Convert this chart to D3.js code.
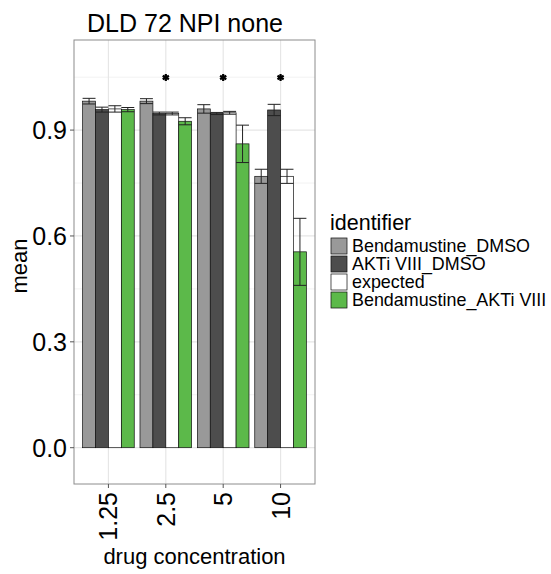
<!DOCTYPE html>
<html><head><meta charset="utf-8">
<script src="https://cdn.jsdelivr.net/npm/d3@7"></script>
<style>body{margin:0;background:#fff}svg{display:block;font-family:"Liberation Sans",Arial,Helvetica,sans-serif}</style>
</head><body><svg id="c" width="551" height="574"></svg>
<script>
const categories = ["1.25","2.5","5","10"];
const seriesNames = ["Bendamustine_DMSO","AKTi VIII_DMSO","expected","Bendamustine_AKTi VIII"];
const seriesColors = ["#999999","#4d4d4d","#ffffff","#5cb94a"];
const bendaDMSO = [0.982,0.982,0.960,0.769];
const bendaDMSOErr = [0.008,0.007,0.012,0.020];
const aktiDMSO = [0.958,0.947,0.947,0.957];
const aktiDMSOErr = [0.007,0.004,0.003,0.016];
const expected = [0.960,0.947,0.949,0.769];
const expectedErr = [0.009,0.004,0.004,0.020];
const combo = [0.958,0.925,0.861,0.555];
const comboErr = [0.006,0.010,0.053,0.095];
const starCategories = ["2.5","5","10"];
const starValue = 1.049;
const yTicks = [0,0.3,0.6,0.9];
const yMinor = [0.15,0.45,0.75,1.05];

const values = [bendaDMSO, aktiDMSO, expected, combo];
const errs = [bendaDMSOErr, aktiDMSOErr, expectedErr, comboErr];

const svg = d3.select("#c");
const L=74,R=315,T=40,B=484;
const x = d3.scaleLinear().domain([0.4,4.6]).range([L,R]);
const y = d3.scaleLinear().domain([-0.1029,1.1553]).range([B,T]);
const catPos = c => categories.indexOf(c)+1;
const bw = 0.9/4;

// panel
svg.append("rect").attr("x",L).attr("y",T).attr("width",R-L).attr("height",B-T).attr("fill","#fff");
const g = svg.append("g");
yMinor.forEach(v=>g.append("line").attr("x1",L).attr("x2",R).attr("y1",y(v)).attr("y2",y(v)).attr("stroke","#f2f2f2").attr("stroke-width",1));
yTicks.forEach(v=>g.append("line").attr("x1",L).attr("x2",R).attr("y1",y(v)).attr("y2",y(v)).attr("stroke","#e6e6e6").attr("stroke-width",1.2));
categories.forEach(c=>g.append("line").attr("y1",T).attr("y2",B).attr("x1",x(catPos(c))).attr("x2",x(catPos(c))).attr("stroke","#e6e6e6").attr("stroke-width",1.2));

// bars
const data=[];
categories.forEach((c,i)=>seriesNames.forEach((s,j)=>data.push({c,s,j,v:values[j][i],e:errs[j][i],xc:catPos(c)-0.45+bw*(j+0.5)})));
svg.append("g").selectAll("rect").data(data).join("rect")
  .attr("x",d=>x(d.xc-bw/2)).attr("width",d=>x(d.xc+bw/2)-x(d.xc-bw/2))
  .attr("y",d=>y(d.v)).attr("height",d=>y(0)-y(d.v))
  .attr("fill",d=>seriesColors[d.j]).attr("stroke","#111").attr("stroke-width",0.7);
// error bars
const eg=svg.append("g").attr("stroke","#222").attr("stroke-width",1);
data.forEach(d=>{
  const x0=x(d.xc-bw/2), x1=x(d.xc+bw/2), xm=x(d.xc);
  eg.append("line").attr("x1",xm).attr("x2",xm).attr("y1",y(d.v+d.e)).attr("y2",y(d.v-d.e));
  eg.append("line").attr("x1",x0).attr("x2",x1).attr("y1",y(d.v+d.e)).attr("y2",y(d.v+d.e));
  eg.append("line").attr("x1",x0).attr("x2",x1).attr("y1",y(d.v-d.e)).attr("y2",y(d.v-d.e));
});
// stars
starCategories.forEach(c=>svg.append("path").attr("d",d3.symbol(d3.symbolAsterisk,36)())
  .attr("transform",`translate(${x(catPos(c))},${y(starValue)})`).attr("stroke","#000").attr("stroke-width",2.2).attr("fill","none"));

// border
svg.append("rect").attr("x",L).attr("y",T).attr("width",R-L).attr("height",B-T).attr("fill","none").attr("stroke","#8c8c8c").attr("stroke-width",1);

// y axis
yTicks.forEach(v=>{
  svg.append("line").attr("x1",L-4).attr("x2",L).attr("y1",y(v)).attr("y2",y(v)).attr("stroke","#555");
  svg.append("text").attr("x",L-7).attr("y",y(v)).attr("dy","0.36em").attr("text-anchor","end").attr("font-size",25).attr("fill","#000").text(v.toFixed(1));
});
// x axis
categories.forEach(c=>{
  const px=x(catPos(c));
  svg.append("line").attr("x1",px).attr("x2",px).attr("y1",B).attr("y2",B+4).attr("stroke","#555");
  svg.append("text").attr("transform",`translate(${px},${B+8}) rotate(-90)`).attr("dy","0.36em").attr("text-anchor","end").attr("font-size",25).attr("fill","#000").text(c);
});
svg.append("text").attr("x",194.5).attr("y",564).attr("text-anchor","middle").attr("font-size",22).text("drug concentration");
svg.append("text").attr("transform","translate(27,266) rotate(-90)").attr("text-anchor","middle").attr("font-size",22).text("mean");
svg.append("text").attr("x",185).attr("y",32).attr("text-anchor","middle").attr("font-size",25).text("DLD 72 NPI none");

// legend
const lg=svg.append("g");
lg.append("text").attr("x",330).attr("y",230).attr("font-size",21.5).text("identifier");
seriesNames.forEach((s,j)=>{
  const yy=237+j*18;
  lg.append("rect").attr("x",330.5).attr("y",yy+0.5).attr("width",17).attr("height",17).attr("fill","#f2f2f2").attr("stroke","none");
  lg.append("rect").attr("x",331).attr("y",yy+1).attr("width",16).attr("height",16).attr("fill",seriesColors[j]).attr("stroke","#111").attr("stroke-width",0.7);
  lg.append("text").attr("x",352).attr("y",yy+9).attr("dy","0.36em").attr("font-size",17.9).text(s);
});
</script></body></html>
